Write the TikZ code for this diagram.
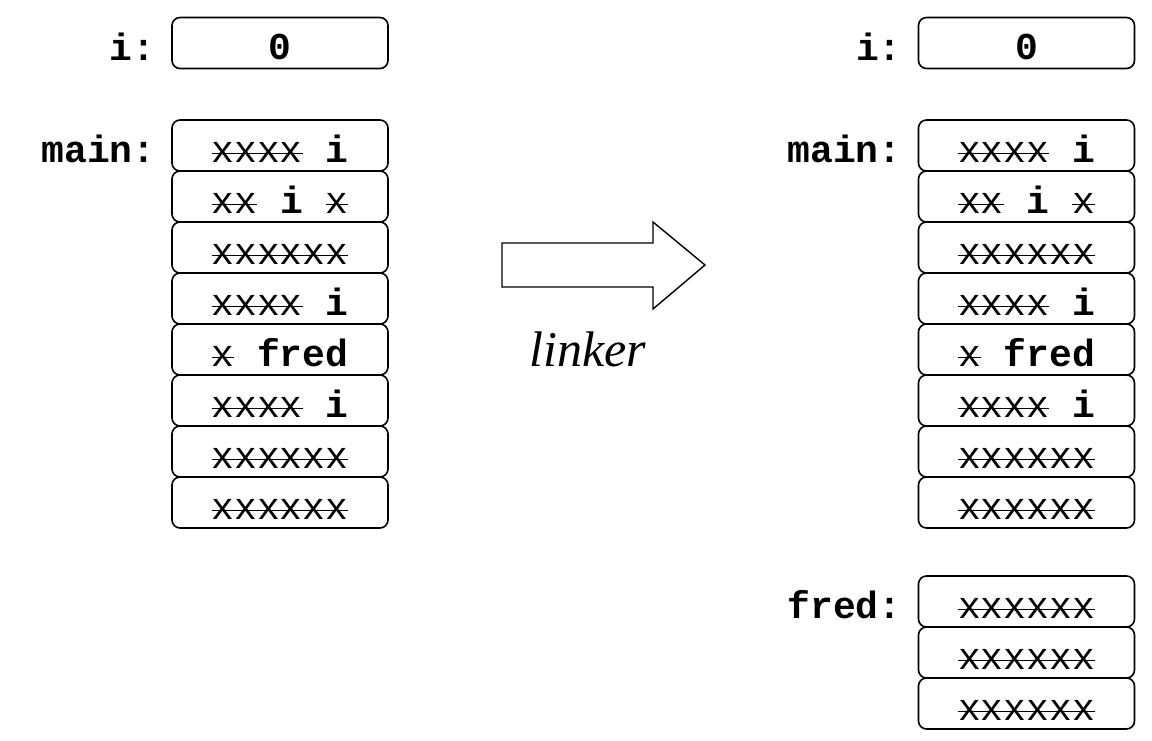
\documentclass[tikz,border=0pt]{standalone}
\usepackage{fontspec}
\setmonofont{Liberation Mono}
\newfontfamily\linkfont{Liberation Serif}
\newcommand\xo[1]{\setbox0\hbox{#1}\rlap{\rule[0.2em]{\wd0}{0.75pt}}\box0}
\tikzset{
  cell/.style={draw, line width=0.8pt, rounded corners=4pt, minimum width=108pt, minimum height=25.5pt,
    inner sep=0pt, text height=16.5pt, text depth=0pt, font=\fontsize{19}{23}\selectfont\ttfamily\bfseries},
  lbl/.style={anchor=base east, inner sep=0pt, font=\fontsize{19}{23}\selectfont\ttfamily\bfseries},
  bigarrow/.style={draw, line width=0.7pt, fill=white},
}
\newcommand\X[1]{{\mdseries\xo{#1}}}
\begin{document}
\begin{tikzpicture}[x=0.5pt,y=-0.5pt]
\useasboundingbox (0,0) rectangle (1152,740);
% left column
\node[cell] (Li) at (280,43) {0};
\node[lbl] (Lil) at (156,60) {i:};
\node[cell] (Lm1) at (280,145.5) {\X{xxxx} i};
\node[cell] (Lm2) at (280,196.5) {\X{xx} i \X{x}};
\node[cell] (Lm3) at (280,247.5) {\X{xxxxxx}};
\node[cell] (Lm4) at (280,298.5) {\X{xxxx} i};
\node[cell] (Lm5) at (280,349.5) {\X{x} fred};
\node[cell] (Lm6) at (280,400.5) {\X{xxxx} i};
\node[cell] (Lm7) at (280,451.5) {\X{xxxxxx}};
\node[cell] (Lm8) at (280,502.5) {\X{xxxxxx}};
\node[lbl] (Lml) at (156,162) {main:};
% arrow
\draw[bigarrow] (502,243) -- (653,243) -- (653,222) -- (705,265) -- (653,309) -- (653,287) -- (502,287) -- cycle;
\node[anchor=base, inner sep=0pt, font=\fontsize{25}{30}\selectfont\linkfont\itshape] (lk) at (588,366) {linker};
% right column
\node[cell] (Ri) at (1026.5,43) {0};
\node[lbl] (Ril) at (902,60) {i:};
\node[cell] (Rm1) at (1026.5,145.5) {\X{xxxx} i};
\node[cell] (Rm2) at (1026.5,196.5) {\X{xx} i \X{x}};
\node[cell] (Rm3) at (1026.5,247.5) {\X{xxxxxx}};
\node[cell] (Rm4) at (1026.5,298.5) {\X{xxxx} i};
\node[cell] (Rm5) at (1026.5,349.5) {\X{x} fred};
\node[cell] (Rm6) at (1026.5,400.5) {\X{xxxx} i};
\node[cell] (Rm7) at (1026.5,451.5) {\X{xxxxxx}};
\node[cell] (Rm8) at (1026.5,502.5) {\X{xxxxxx}};
\node[lbl] (Rml) at (902,162) {main:};
\node[cell] (Rf1) at (1026.5,601.5) {\X{xxxxxx}};
\node[cell] (Rf2) at (1026.5,652.5) {\X{xxxxxx}};
\node[cell] (Rf3) at (1026.5,703.5) {\X{xxxxxx}};
\node[lbl] (Rfl) at (902,618) {fred:};
\end{tikzpicture}
\end{document}
